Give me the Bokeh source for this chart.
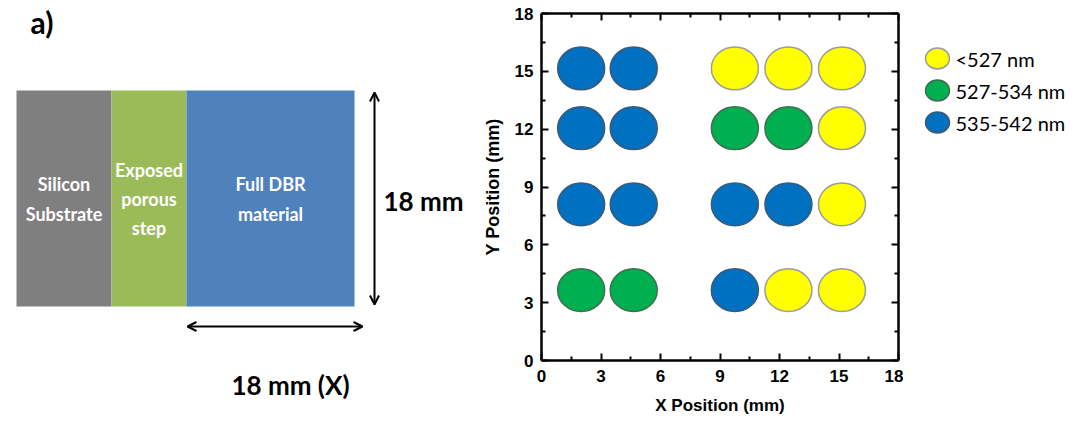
from bokeh.plotting import figure
from bokeh.layouts import row
from bokeh.models import (Range1d, LinearAxis, FixedTicker, Arrow, OpenHead, ColumnDataSource)
from bokeh.core.properties import value
from bokeh.embed import file_html
from bokeh.resources import INLINE

# ---------------- data ----------------
# measurement spot centres (mm)
x_positions = [2.0, 4.65, 9.75, 12.45, 15.15]
y_positions = [15.15, 12.05, 8.1, 3.65]
# wavelength bins
wavelength_bins = ["<527 nm", "527-534 nm", "535-542 nm"]
# bin index of every spot, rows listed top (y=15.15) to bottom (y=3.65)
spot_bins = [
    [2, 2, 0, 0, 0],
    [2, 2, 1, 1, 0],
    [2, 2, 2, 2, 0],
    [1, 1, 2, 0, 0],
]
major_ticks = [0, 3, 6, 9, 12, 15, 18]
minor_ticks = [1.5, 4.5, 7.5, 10.5, 13.5, 16.5]

# schematic (panel a)
region_labels = ["Silicon\nSubstrate", "Exposed\nporous\nstep", "Full DBR\nmaterial"]
dimension_labels = ["18 mm", "18 mm (X)"]
panel_label = "a)"

# ---------------- styles ----------------
bin_fill = ["#FFFF00", "#00B050", "#0070C0"]
bin_line = ["#9C9C9C", "#3F6F52", "#3C5A78"]
region_fill = ["#7F7F7F", "#9BBB59", "#4F81BD"]
spot_w, spot_h = 2.37, 2.22
tick_font = "Liberation Sans"

# ---------------- left schematic ----------------
left = figure(width=474, height=422, x_range=Range1d(0, 474), y_range=Range1d(422, 0),
              output_backend="svg", toolbar_location=None, min_border=0,
              x_axis_location=None, y_axis_location=None)
left.frame_align = False
left.outline_line_color = None
left.grid.visible = False

edges = [16, 111, 186, 354]
left.quad(left=edges[:-1], right=edges[1:], top=90, bottom=306,
          fill_color=region_fill, line_color=None)
left.text(x=[(edges[i] + edges[i + 1]) / 2 for i in range(3)], y=[198.5] * 3,
          text=region_labels, text_align="center", text_baseline="middle",
          text_color="white", text_font=value("Lato"), text_font_style="bold",
          text_font_size="18px", text_line_height=1.33)
left.add_layout(Arrow(start=OpenHead(size=9, line_width=2), end=OpenHead(size=9, line_width=2),
                      x_start=374, y_start=92, x_end=374, y_end=304, line_width=2))
left.add_layout(Arrow(start=OpenHead(size=9, line_width=2), end=OpenHead(size=9, line_width=2),
                      x_start=187, y_start=326, x_end=362, y_end=326, line_width=2))
left.text(x=[383], y=[200], text=[dimension_labels[0]], text_align="left", text_baseline="middle",
          text_font=value("Lato"), text_font_style="bold", text_font_size="26px", text_color="black")
left.text(x=[290], y=[384], text=[dimension_labels[1]], text_align="center", text_baseline="middle",
          text_font=value("Lato"), text_font_style="bold", text_font_size="26px", text_color="black")
left.text(x=[30], y=[21], text=[panel_label], text_align="left", text_baseline="middle",
          text_font=value("Lato"), text_font_style="bold", text_font_size="30px", text_color="black")

# ---------------- right scatter ----------------
p = figure(x_range=Range1d(0, 18), y_range=Range1d(0, 18),
           frame_width=357, frame_height=347,
           min_border_left=67, min_border_right=5, min_border_top=13, min_border_bottom=62,
           output_backend="svg", toolbar_location=None,
           x_axis_label="X Position (mm)", y_axis_label="Y Position (mm)")
p.frame_align = False
p.grid.visible = False
p.outline_line_color = None

ticker = FixedTicker(ticks=major_ticks, minor_ticks=minor_ticks)
p.add_layout(LinearAxis(), "above")
p.add_layout(LinearAxis(), "right")
for ax in p.axis:
    ax.ticker = ticker
    ax.axis_line_width = 2.5
    ax.axis_line_color = "black"
    ax.major_tick_in = 7
    ax.major_tick_out = 0
    ax.minor_tick_in = 4
    ax.minor_tick_out = 0
    ax.major_tick_line_width = 2
    ax.minor_tick_line_width = 2
    ax.major_tick_line_color = "black"
    ax.minor_tick_line_color = "black"
    ax.major_label_text_font = tick_font
    ax.major_label_text_font_style = "bold"
    ax.major_label_text_font_size = "17px"
    ax.major_label_text_color = "black"
    ax.axis_label_text_font = tick_font
    ax.axis_label_text_font_style = "bold"
    ax.axis_label_text_color = "black"
for ax in p.above + p.right:
    ax.major_label_overrides = {t: "" for t in major_ticks}
    ax.major_label_standoff = 0
xax = p.below[0]
yax = p.left[0]
xax.axis_label_text_font_size = "17px"
yax.axis_label_text_font_size = "18px"
xax.major_label_standoff = 9
xax.axis_label_standoff = 11
yax.major_label_standoff = 8
yax.axis_label_standoff = 9

for b, name in enumerate(wavelength_bins):
    xs, ys = [], []
    for r, yv in enumerate(y_positions):
        for c, xv in enumerate(x_positions):
            if spot_bins[r][c] == b:
                xs.append(xv)
                ys.append(yv)
    src = ColumnDataSource(dict(x=xs, y=ys))
    p.ellipse(x="x", y="y", width=spot_w, height=spot_h, source=src,
              fill_color=bin_fill[b], line_color=bin_line[b], line_width=1.5)

# ---------------- key (legend) ----------------
p_width = 67 + 357 + 5
leg_w = 1066 - 474 - p_width
leg = figure(width=leg_w, height=422, x_range=Range1d(0, leg_w), y_range=Range1d(422, 0),
             output_backend="svg", toolbar_location=None, min_border=0,
             x_axis_location=None, y_axis_location=None)
leg.frame_align = False
leg.outline_line_color = None
leg.grid.visible = False
key_y = [58 + 32 * i for i in range(len(wavelength_bins))]
leg.ellipse(x=[34] * len(wavelength_bins), y=key_y, width=24, height=21,
            width_units="screen", height_units="screen",
            fill_color=bin_fill, line_color=bin_line, line_width=1.5)
leg.text(x=[52] * len(wavelength_bins), y=key_y, text=wavelength_bins,
         text_align="left", text_baseline="middle", text_font=value("Lato"),
         text_font_size="20px", text_color="black")

out = row(left, p, leg)
open("out.html", "w").write(file_html(out, INLINE))
